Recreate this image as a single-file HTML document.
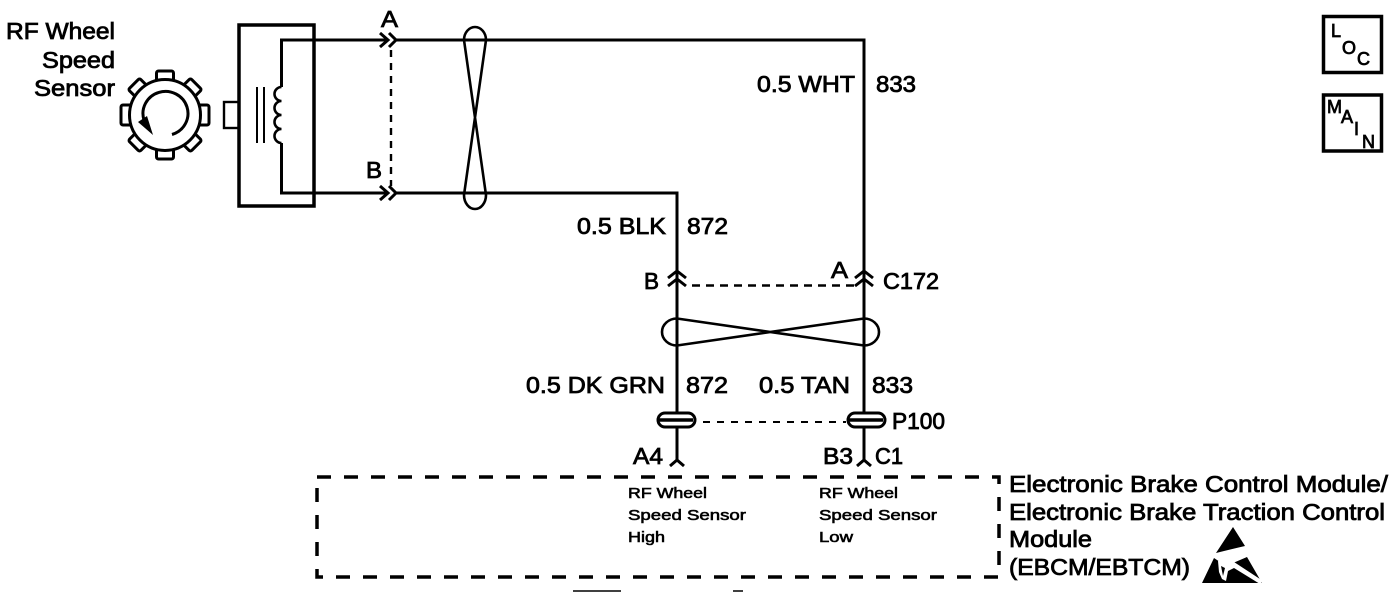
<!DOCTYPE html>
<html><head><meta charset="utf-8"><style>
html,body{margin:0;padding:0;background:#fff;width:1392px;height:608px;overflow:hidden}
svg{display:block}
text{font-family:"Liberation Sans",sans-serif;fill:#000;stroke:#000;stroke-width:.8px}
.l{font-size:23px}
.s{font-size:15px;stroke-width:.6px}
.m{font-size:18px}
.w{fill:none;stroke:#000;stroke-width:3}
.t{fill:none;stroke:#000;stroke-width:3}
.th{fill:#fff;stroke:#000;stroke-width:3}
</style></head><body>
<svg width="1392" height="608" viewBox="0 0 1392 608" xmlns="http://www.w3.org/2000/svg">
<text class="l" x="6" y="39" textLength="109" lengthAdjust="spacingAndGlyphs">RF Wheel</text>
<text class="l" x="42" y="68" textLength="73" lengthAdjust="spacingAndGlyphs">Speed</text>
<text class="l" x="34" y="96" textLength="81" lengthAdjust="spacingAndGlyphs">Sensor</text>

<!-- wheel teeth then ring -->
<rect class="th" x="156.500" y="71" width="17" height="12" rx="2"/>
<rect class="th" x="157" y="71" width="16" height="12" rx="2" transform="rotate(45 165 115)"/>
<rect class="th" x="155" y="71" width="20" height="12" rx="2" transform="rotate(90 165 115)"/>
<rect class="th" x="157" y="71" width="16" height="12" rx="2" transform="rotate(135 165 115)"/>
<rect class="th" x="156.500" y="71" width="17" height="12" rx="2" transform="rotate(180 165 115)"/>
<rect class="th" x="157" y="71" width="16" height="12" rx="2" transform="rotate(225 165 115)"/>
<rect class="th" x="155" y="71" width="20" height="12" rx="2" transform="rotate(270 165 115)"/>
<rect class="th" x="157" y="71" width="16" height="12" rx="2" transform="rotate(315 165 115)"/>
<circle cx="165" cy="115" r="35.500" fill="#fff" stroke="#000" stroke-width="3"/>
<path d="M172 134.500 A22.500 22 0 1 0 144 120" class="w"/>
<path d="M138 122 L147 116 L153 135 Z" fill="#000"/>

<!-- sensor box -->
<rect x="224" y="102" width="15" height="26" fill="#fff" stroke="#000" stroke-width="2.400"/>
<rect x="239" y="25" width="75" height="181" fill="none" stroke="#000" stroke-width="3.500"/>
<path d="M386 40 H281.500 V87 M281.500 143 V193 H386" class="w"/>
<path d="M281.500 87 A7 7 0 0 0 281.500 101 A7 7 0 0 0 281.500 115 A7 7 0 0 0 281.500 129 A7 7 0 0 0 281.500 143" fill="none" stroke="#000" stroke-width="2.600"/>
<path d="M257 87 V143 M264 87 V143" fill="none" stroke="#000" stroke-width="2"/>

<!-- top connector -->
<text class="l" x="381" y="27" textLength="17" lengthAdjust="spacingAndGlyphs">A</text>
<text class="l" x="366" y="178" textLength="16" lengthAdjust="spacingAndGlyphs">B</text>
<path d="M380 33 L388 40 L380 47 M389 33 L396 40 L389 47 M380 186 L388 193 L380 200 M389 186 L396 193 L389 200" class="t"/>
<path d="M391 50 V186" fill="none" stroke="#000" stroke-width="2.400" stroke-dasharray="7 6"/>
<path d="M396 40 H864 V460" class="w"/>
<path d="M396 193 H677 V460" class="w"/>

<!-- twist 1 -->
<path d="M464 40 A11 13 0 0 1 486 40 L464 195 A11 14 0 0 0 486 195 Z" fill="none" stroke="#000" stroke-width="2.600"/>

<!-- labels -->
<text class="l" x="757" y="92" textLength="98" lengthAdjust="spacingAndGlyphs">0.5 WHT</text>
<text class="l" x="876" y="92" textLength="40" lengthAdjust="spacingAndGlyphs">833</text>
<text class="l" x="577" y="234" textLength="89" lengthAdjust="spacingAndGlyphs">0.5 BLK</text>
<text class="l" x="687" y="234" textLength="41" lengthAdjust="spacingAndGlyphs">872</text>

<!-- C172 -->
<text class="l" x="644" y="289" textLength="15" lengthAdjust="spacingAndGlyphs">B</text>
<text class="l" x="831" y="278" textLength="17" lengthAdjust="spacingAndGlyphs">A</text>
<text class="l" x="883" y="289" textLength="56" lengthAdjust="spacingAndGlyphs">C172</text>
<path d="M668 278 L677 271 L686 278 M668 286 L677 279 L686 286 M855 278 L864 271 L873 278 M855 286 L864 279 L873 286" class="t"/>
<path d="M692 285.500 H855" fill="none" stroke="#000" stroke-width="2.400" stroke-dasharray="8 6"/>

<!-- twist 2 -->
<path d="M677 318.500 A15 13.500 0 0 0 677 345.500 L864 318.500 A15 13.500 0 0 1 864 345.500 Z" fill="none" stroke="#000" stroke-width="2.600"/>

<text class="l" x="526" y="393" textLength="139" lengthAdjust="spacingAndGlyphs">0.5 DK GRN</text>
<text class="l" x="686" y="393" textLength="42" lengthAdjust="spacingAndGlyphs">872</text>
<text class="l" x="759" y="393" textLength="91" lengthAdjust="spacingAndGlyphs">0.5 TAN</text>
<text class="l" x="872" y="393" textLength="41" lengthAdjust="spacingAndGlyphs">833</text>

<!-- P100 -->
<rect x="658" y="413" width="37" height="14" rx="7" fill="#fff" stroke="#000" stroke-width="3"/>
<rect x="848" y="413" width="37" height="14" rx="7" fill="#fff" stroke="#000" stroke-width="3"/>
<path d="M659 420 H693 M849 420 H883" stroke="#000" stroke-width="3.500"/>
<path d="M703 422 H846" fill="none" stroke="#000" stroke-width="2" stroke-dasharray="7 7"/>
<text class="l" x="892" y="429" textLength="53" lengthAdjust="spacingAndGlyphs">P100</text>

<text class="l" x="633" y="464" textLength="30" lengthAdjust="spacingAndGlyphs">A4</text>
<text class="l" x="823" y="464" textLength="30" lengthAdjust="spacingAndGlyphs">B3</text>
<text class="l" x="875" y="464" textLength="28" lengthAdjust="spacingAndGlyphs">C1</text>
<path d="M670 466 L677 460 L684 466 M857 466 L864 460 L871 466" class="t"/>

<!-- module box -->
<rect x="317" y="477" width="682" height="100" fill="none" stroke="#000" stroke-width="3.500" stroke-dasharray="14 13"/>
<text class="s" x="628" y="498" textLength="79" lengthAdjust="spacingAndGlyphs">RF Wheel</text>
<text class="s" x="628" y="520" textLength="118" lengthAdjust="spacingAndGlyphs">Speed Sensor</text>
<text class="s" x="628" y="542" textLength="37" lengthAdjust="spacingAndGlyphs">High</text>
<text class="s" x="819" y="498" textLength="79" lengthAdjust="spacingAndGlyphs">RF Wheel</text>
<text class="s" x="819" y="520" textLength="118" lengthAdjust="spacingAndGlyphs">Speed Sensor</text>
<text class="s" x="819" y="542" textLength="34" lengthAdjust="spacingAndGlyphs">Low</text>

<text class="l" x="1009" y="492" textLength="379" lengthAdjust="spacingAndGlyphs">Electronic Brake Control Module/</text>
<text class="l" x="1009" y="520" textLength="376" lengthAdjust="spacingAndGlyphs">Electronic Brake Traction Control</text>
<text class="l" x="1009" y="547" textLength="83" lengthAdjust="spacingAndGlyphs">Module</text>
<text class="l" x="1009" y="575" textLength="181" lengthAdjust="spacingAndGlyphs">(EBCM/EBTCM)</text>

<!-- ESD symbol -->
<path d="M1233 527 L1245 546 Q1232 549 1216 553 Z" fill="#000"/>
<path d="M1202 583 L1214 558 L1226 566 L1247 557 L1262 583 Z" fill="#000"/>
<path d="M1218 561 L1234 562 L1263 581 L1260 584 L1234 568 L1228 571 L1226 581 L1222 579 L1219 572 Z" fill="#fff"/>
<path d="M1221 566 L1223 576 L1225 568 Z" fill="#000"/>

<!-- LOC / MAIN -->
<rect x="1323.500" y="16.500" width="58" height="56" fill="none" stroke="#000" stroke-width="3.500"/>
<rect x="1323.500" y="95" width="58" height="56" fill="none" stroke="#000" stroke-width="3.500"/>
<text class="m" x="1331" y="37">L</text>
<text class="m" x="1342" y="54">O</text>
<text class="m" x="1357" y="65">C</text>
<text class="m" x="1327" y="113">M</text>
<text class="m" x="1341" y="123">A</text>
<text class="m" x="1354" y="135">I</text>
<text class="m" x="1362" y="148">N</text>

<path d="M573 591 H621 M733 591 H743" stroke="#000" stroke-width="1.500"/>
</svg>
</body></html>
